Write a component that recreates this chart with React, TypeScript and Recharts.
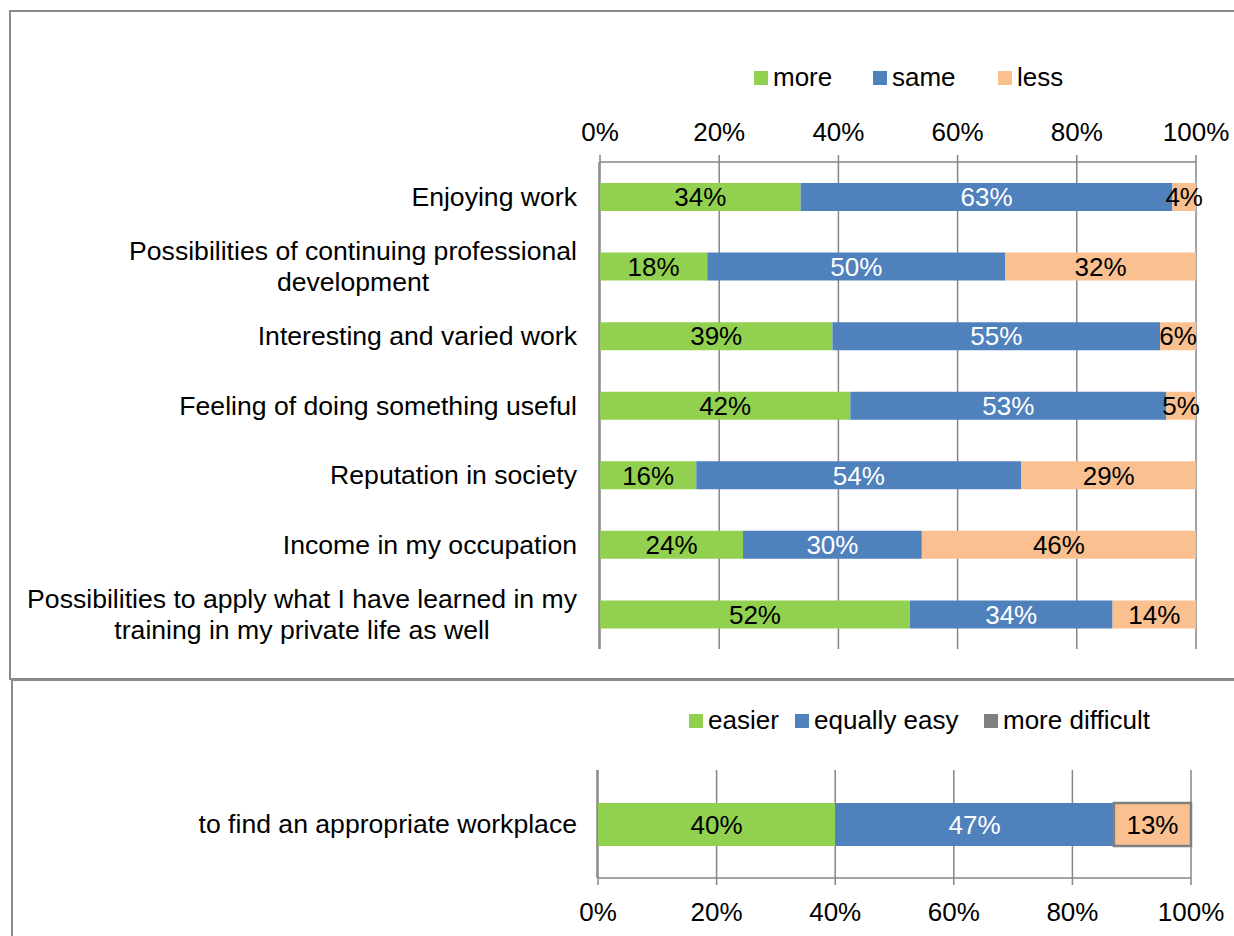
import React from 'react';
import { BarChart, Bar, XAxis, YAxis, CartesianGrid, LabelList, Legend } from 'recharts';

// top chart: more / same / less
const categories = [
  'Enjoying work',
  'Possibilities of continuing professional\ndevelopment',
  'Interesting and varied work',
  'Feeling of doing something useful',
  'Reputation in society',
  'Income in my occupation',
  'Possibilities to apply what I have learned in my\ntraining in my private life as well',
];
const more = [34, 18, 39, 42, 16, 24, 52];
const same = [63, 50, 55, 53, 54, 30, 34];
const less = [4, 32, 6, 5, 29, 46, 14];

// bottom chart: easier / equally easy / more difficult
const workplaceCategories = ['to find an appropriate workplace'];
const easier = [40];
const equallyEasy = [47];
const moreDifficult = [13];

const percentTicks = [0, 0.2, 0.4, 0.6, 0.8, 1];

const GREEN = '#92D050';
const BLUE = '#4F81BD';
const ORANGE = '#FAC090';
const GRAY = '#868686';
const FONT = "'Liberation Sans', Arial, sans-serif";
const CAT_SIZE = 26.6;

const topData = categories.map((name, i) => ({ name, more: more[i], same: same[i], less: less[i] }));
const bottomData = workplaceCategories.map((name, i) => ({
  name,
  easier: easier[i],
  equallyEasy: equallyEasy[i],
  moreDifficult: moreDifficult[i],
}));

let ctx: CanvasRenderingContext2D | null = null;
function measure(text: string) {
  if (!ctx) {
    ctx = document.createElement('canvas').getContext('2d');
    if (ctx) ctx.font = `${CAT_SIZE}px ${FONT}`;
  }
  return ctx ? ctx.measureText(text).width : text.length * 13;
}

// right aligned block, lines centred inside it (like Excel does)
function CategoryTick(props: any) {
  const { y, payload } = props;
  const lines = String(payload.value).split('\n');
  const right = 577;
  if (lines.length === 1) {
    return (
      <text x={right} y={y} textAnchor="end" dominantBaseline="central" fontSize={CAT_SIZE} fill="#000">
        {lines[0]}
      </text>
    );
  }
  const w = Math.max(...lines.map(measure));
  const cx = right - w / 2;
  return (
    <text textAnchor="middle" dominantBaseline="central" fontSize={CAT_SIZE} fill="#000">
      {lines.map((l, i) => (
        <tspan key={i} x={cx} y={y + (i - (lines.length - 1) / 2) * 31}>
          {l}
        </tspan>
      ))}
    </text>
  );
}

const pct = (v: number) => `${Math.round(v * 100)}%`;
const labelPct = (v: any) => `${v}%`;

type LegendItem = { label: string; color: string; width?: number };

function legendContent(items: LegendItem[]) {
  return () => (
    <div style={{ display: 'flex', alignItems: 'center', fontSize: 26, color: '#000', whiteSpace: 'nowrap' }}>
      {items.map((it) => (
        <div key={it.label} style={{ display: 'flex', alignItems: 'center', width: it.width }}>
          <span style={{ display: 'inline-block', width: 14, height: 14, background: it.color, marginRight: 5 }} />
          <span>{it.label}</span>
        </div>
      ))}
    </div>
  );
}

export default function App() {
  return (
    <div style={{ position: 'relative', width: 1234, height: 936, overflow: 'hidden', background: '#fff', fontFamily: FONT }}>
      <style>{'body{margin:0}'}</style>
      <div style={{ position: 'absolute', left: 9, top: 10, width: 1300, height: 666, border: '2px solid #8a8a8a' }} />
      <div style={{ position: 'absolute', left: 11, top: 679, width: 1300, height: 300, border: '2px solid #8a8a8a' }} />

      <div style={{ position: 'absolute', left: 0, top: 0 }}>
        <BarChart
          width={1234}
          height={680}
          data={topData}
          layout="vertical"
          stackOffset="expand"
          margin={{ top: 100, right: 38, bottom: 31, left: 598 }}
        >
          <CartesianGrid horizontal={false} stroke={GRAY} strokeWidth={1.5} />
          <Legend
            verticalAlign="middle"
            align="center"
            wrapperStyle={{ left: 754, top: 62, width: 'auto', height: 30 }}
            content={legendContent([
              { label: 'more', color: GREEN, width: 119 },
              { label: 'same', color: BLUE, width: 125 },
              { label: 'less', color: ORANGE },
            ])}
          />
          <XAxis
            type="number"
            orientation="top"
            height={62}
            domain={[0, 1]}
            ticks={percentTicks}
            interval={0}
            tickFormatter={pct}
            tickSize={7}
            tickMargin={14}
            stroke={GRAY}
            strokeWidth={1.5}
            tick={{ fill: '#000', fontSize: 26 }}
          />
          <YAxis
            type="category"
            dataKey="name"
            width={1}
            interval={0}
            axisLine={false}
            tickLine={false}
            tickSize={0}
            tickMargin={0}
            tick={<CategoryTick />}
          />
          <YAxis
            yAxisId="edge"
            type="number"
            domain={[0, 7]}
            ticks={[0, 1, 2, 3, 4, 5, 6, 7]}
            allowDataOverflow
            width={1}
            tick={false}
            tickSize={6}
            stroke={GRAY}
            strokeWidth={1.5}
          />
          <Bar dataKey="more" name="more" stackId="a" fill={GREEN} barSize={28} isAnimationActive={false}>
            <LabelList dataKey="more" position="center" formatter={labelPct} fill="#000" fontSize={26} />
          </Bar>
          <Bar dataKey="same" name="same" stackId="a" fill={BLUE} barSize={28} isAnimationActive={false}>
            <LabelList dataKey="same" position="center" formatter={labelPct} fill="#fff" fontSize={26} />
          </Bar>
          <Bar dataKey="less" name="less" stackId="a" fill={ORANGE} barSize={28} isAnimationActive={false}>
            <LabelList dataKey="less" position="center" formatter={labelPct} fill="#000" fontSize={26} />
          </Bar>
        </BarChart>
      </div>

      <div style={{ position: 'absolute', left: 0, top: 680 }}>
        <BarChart
          width={1234}
          height={256}
          data={bottomData}
          layout="vertical"
          stackOffset="expand"
          margin={{ top: 90, right: 43, bottom: 0, left: 596 }}
        >
          <CartesianGrid horizontal={false} stroke={GRAY} strokeWidth={1.5} />
          <Legend
            verticalAlign="middle"
            align="center"
            wrapperStyle={{ left: 689, top: 25, width: 'auto', height: 30 }}
            content={legendContent([
              { label: 'easier', color: GREEN, width: 106 },
              { label: 'equally easy', color: BLUE, width: 189 },
              { label: 'more difficult', color: '#7F7F7F' },
            ])}
          />
          <XAxis
            type="number"
            orientation="bottom"
            height={58}
            domain={[0, 1]}
            ticks={percentTicks}
            interval={0}
            tickFormatter={pct}
            tickSize={7}
            tickMargin={18}
            stroke={GRAY}
            strokeWidth={1.5}
            tick={{ fill: '#000', fontSize: 26 }}
          />
          <YAxis
            type="category"
            dataKey="name"
            width={1}
            interval={0}
            axisLine={false}
            tickLine={false}
            tickSize={0}
            tickMargin={0}
            tick={<CategoryTick />}
          />
          <YAxis
            yAxisId="edge"
            type="number"
            domain={[0, 1]}
            ticks={[0, 1]}
            allowDataOverflow
            width={1}
            tick={false}
            tickSize={6}
            stroke={GRAY}
            strokeWidth={1.5}
          />
          <Bar dataKey="easier" name="easier" stackId="a" fill={GREEN} barSize={43} isAnimationActive={false}>
            <LabelList dataKey="easier" position="center" formatter={labelPct} fill="#000" fontSize={26} />
          </Bar>
          <Bar dataKey="equallyEasy" name="equally easy" stackId="a" fill={BLUE} barSize={43} isAnimationActive={false}>
            <LabelList dataKey="equallyEasy" position="center" formatter={labelPct} fill="#fff" fontSize={26} />
          </Bar>
          <Bar
            dataKey="moreDifficult"
            name="more difficult"
            stackId="a"
            fill={ORANGE}
            stroke="#7F7F7F"
            strokeWidth={2.5}
            barSize={43}
            isAnimationActive={false}
          >
            <LabelList dataKey="moreDifficult" position="center" formatter={labelPct} fill="#000" stroke="none" fontSize={26} />
          </Bar>
        </BarChart>
      </div>
    </div>
  );
}
